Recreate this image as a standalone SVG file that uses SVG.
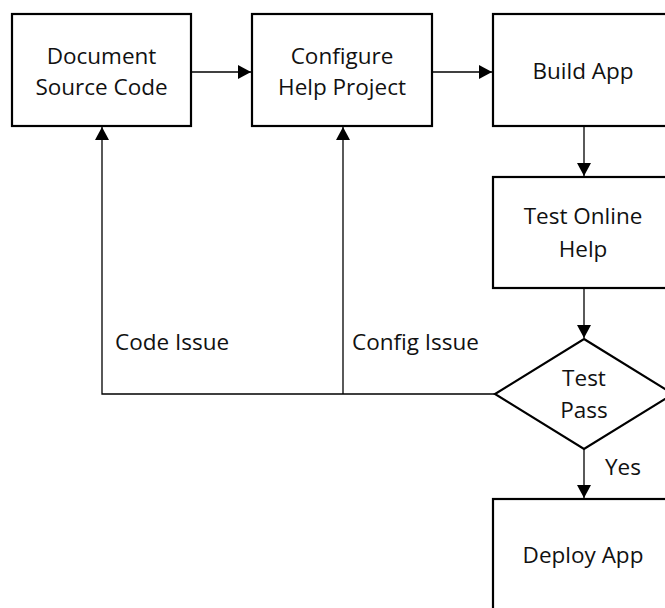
<svg xmlns="http://www.w3.org/2000/svg" width="665" height="608" viewBox="0 0 665 608">
<style>
.box{fill:#fff;stroke:#000;stroke-width:2.2}
.conn{fill:none;stroke:#000;stroke-width:1.3}
text{font-family:"Open Sans","Noto Sans","Liberation Sans",sans-serif;font-size:22.5px;fill:#111}
.c{text-anchor:middle}
</style>
<defs>
<marker id="ah" markerUnits="userSpaceOnUse" markerWidth="14" markerHeight="14" refX="13" refY="7" orient="auto">
<path d="M0,0 L13,7 L0,14 Z" fill="#000"/>
</marker>
</defs>
<rect width="665" height="608" fill="#fff"/>
<g id="connectors">
<line class="conn" x1="192" y1="72" x2="251" y2="72" marker-end="url(#ah)"/>
<line class="conn" x1="433" y1="72" x2="492" y2="72" marker-end="url(#ah)"/>
<line class="conn" x1="584" y1="127" x2="584" y2="176" marker-end="url(#ah)"/>
<line class="conn" x1="584" y1="289" x2="584" y2="338" marker-end="url(#ah)"/>
<line class="conn" x1="584" y1="449" x2="584" y2="498" marker-end="url(#ah)"/>
<polyline class="conn" points="495,394 102,394 102,127" marker-end="url(#ah)"/>
<polyline class="conn" points="343,394 343,127" marker-end="url(#ah)"/>
</g>
<g id="doc">
<rect class="box" x="12" y="14" width="179" height="112"/>
<text class="c" x="101.5" y="64">Document</text>
<text class="c" x="101.5" y="95">Source Code</text>
</g>
<g id="config">
<rect class="box" x="252" y="14" width="180" height="112"/>
<text class="c" x="342" y="64">Configure</text>
<text class="c" x="342" y="95">Help Project</text>
</g>
<g id="build">
<rect class="box" x="493" y="14" width="180" height="112"/>
<text class="c" x="583" y="79">Build App</text>
</g>
<g id="test">
<rect class="box" x="493" y="177" width="180" height="111"/>
<text class="c" x="583" y="224">Test Online</text>
<text class="c" x="583" y="257">Help</text>
</g>
<g id="decision">
<polygon class="box" points="584,339 673,394 584,449 495,394"/>
<text class="c" x="584" y="386">Test</text>
<text class="c" x="584" y="418">Pass</text>
</g>
<g id="deploy">
<rect class="box" x="493" y="499" width="180" height="112"/>
<text class="c" x="583" y="563">Deploy App</text>
</g>
<g id="labels">
<text x="115" y="350">Code Issue</text>
<text x="352" y="350">Config Issue</text>
<text x="605" y="475">Yes</text>
</g>
</svg>
